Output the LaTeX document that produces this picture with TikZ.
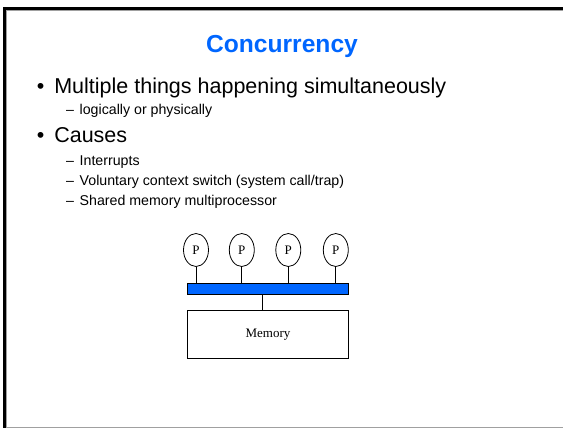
\documentclass[tikz,border=0pt]{standalone}
\usepackage{fontspec}
\setmainfont{Liberation Sans}
\newfontfamily\serifface{Liberation Serif}
\usetikzlibrary{shapes.geometric}
\definecolor{slideblue}{RGB}{0,102,255}
\definecolor{shadowgray}{RGB}{160,160,160}
\tikzset{
  pt/.style={x=1pt,y=-1pt},
  titletext/.style={anchor=base,inner sep=0pt,text=slideblue,font=\fontsize{24.6}{28}\selectfont\bfseries},
  mainitem/.style={anchor=base west,inner sep=0pt,font=\fontsize{21.5}{24}\selectfont},
  subitem/.style={anchor=base west,inner sep=0pt,font=\fontsize{14.2}{17}\selectfont},
  cpu/.style={ellipse,draw,line width=0.8pt,minimum width=25pt,minimum height=33pt,inner sep=0pt,font=\serifface\fontsize{13}{15}\selectfont},
  busbar/.style={draw,line width=0.8pt,fill=slideblue,minimum width=161pt,minimum height=11pt,inner sep=0pt},
  membox/.style={draw,line width=0.8pt,minimum width=161pt,minimum height=48.5pt,inner sep=0pt,font=\serifface\fontsize{13}{15}\selectfont},
  wire/.style={line width=0.8pt}
}
\newcommand{\bul}{\makebox[17.5pt][l]{•}}
\newcommand{\dashitem}{\makebox[13.5pt][l]{–}}
\begin{document}
\begin{tikzpicture}[pt]
\useasboundingbox (0,0) rectangle (563,428);
% slide frame with its shadow line
\draw[line width=2.4pt,black] (4.5,428) -- (4.5,8.6) -- (563,8.6);
\draw[line width=1.2pt,shadowgray] (6.3,428) -- (6.3,10.4) -- (563,10.4);
\draw[line width=1.4pt,shadowgray] (6,427.3) -- (563,427.3);

% heading and bullet list
\node[titletext] (title) at (282,52.5) {Concurrency};
\node[mainitem] (b1) at (36.6,94) {\bul Multiple things happening simultaneously};
\node[subitem] (s1) at (66,114) {\dashitem logically or physically};
\node[mainitem] (b2) at (36.6,142.7) {\bul Causes};
\node[subitem] (s2) at (66,165) {\dashitem Interrupts};
\node[subitem] (s3) at (66,185) {\dashitem Voluntary context switch (system call/trap)};
\node[subitem] (s4) at (66,205) {\dashitem Shared memory multiprocessor};

% shared-memory multiprocessor
\node[cpu] (p1) at (196,250) {P};
\node[cpu] (p2) at (241.8,250) {P};
\node[cpu] (p3) at (288.3,250) {P};
\node[cpu] (p4) at (335.8,250) {P};
\node[busbar] (bus) at (268,288.8) {};
\node[membox] (mem) at (268,334.5) {Memory};
\foreach \p in {p1,p2,p3,p4}
  \draw[wire] (\p.south) -- (\p.south |- bus.north);
\coordinate (tap) at (262.3,294.3);
\draw[wire] (tap) -- (tap |- mem.north);
\end{tikzpicture}
\end{document}
